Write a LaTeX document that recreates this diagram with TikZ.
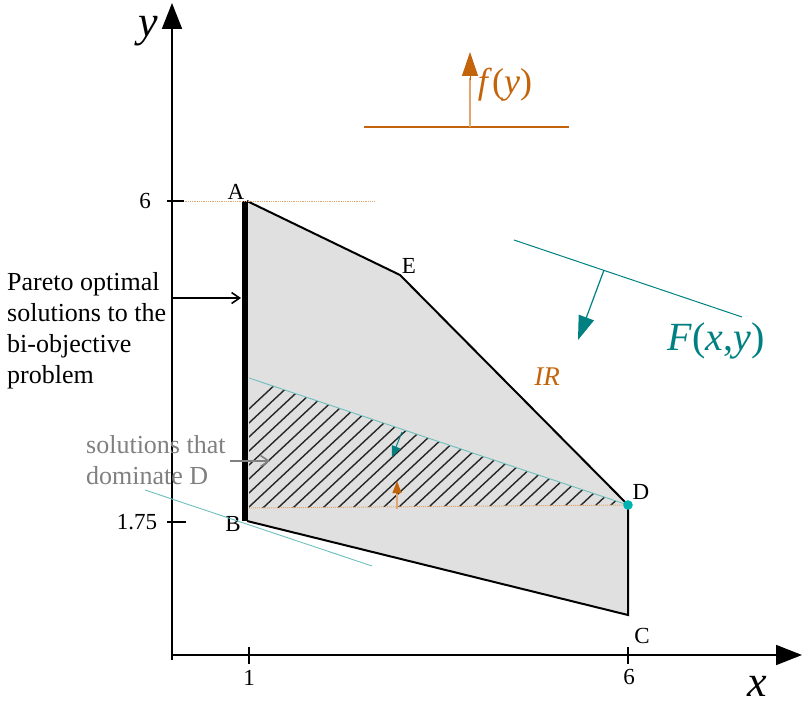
\documentclass[tikz,border=0pt]{standalone}
\usepackage{fontspec}
\setmainfont{Liberation Serif}
\usetikzlibrary{arrows.meta}
\definecolor{teal1}{RGB}{0,128,128}
\definecolor{lteal}{RGB}{110,190,190}
\definecolor{org}{RGB}{196,100,10}
\definecolor{lorg}{RGB}{225,165,110}
\definecolor{regfill}{RGB}{224,224,224}
\definecolor{gtxt}{RGB}{128,128,128}
\tikzset{
  lbl/.style={inner sep=0pt, font=\fontsize{23}{26}\selectfont},
  side/.style={inner sep=0pt, align=left, font=\fontsize{26}{31}\selectfont},
  axis/.style={line width=1.8pt, -{Triangle[length=26pt,width=20pt]}},
  tick/.style={line width=1.1pt},
}
\begin{document}
\begin{tikzpicture}[x=1pt,y=-1pt]
\useasboundingbox (0,0) rectangle (802,706);
% coordinates
\coordinate (A) at (247,201);
\coordinate (E) at (400,275);
\coordinate (D) at (628,505);
\coordinate (C) at (628,615);
\coordinate (B) at (247,521);
\coordinate (H1) at (249,378);
\coordinate (H2) at (249,508);
% region
\fill[regfill] (A) -- (E) -- (D) -- (C) -- (B) -- cycle;
% hatch
\begin{scope}
\clip (H1) -- (D) -- (H2) -- cycle;
\foreach \i in {0,...,40}{
  \draw[line width=1.4pt, black!85] ({130+\i*15},520) -- ++(150,-140);
}
\end{scope}
\draw[lteal, line width=0.9pt] (H1) -- (D);
\draw[lorg, line width=1pt, densely dotted] (H2) -- (D);
\draw[black, line width=2pt] (A) -- (E) -- (D) -- (C) -- (B);
\draw[line width=6pt] (245,201) -- (245,521);
% dotted horizontal at 6
\draw[lorg, line width=0.8pt, densely dotted] (172,201) -- (375,201);
% axes
\coordinate (O) at (172,655);
\coordinate (Ytip) at (172,3);
\coordinate (Xtip) at (802,655);
\draw[axis] (172,660) -- (Ytip);
\draw[axis] (172,655) -- (Xtip);
\node[inner sep=0pt, font=\fontsize{44}{44}\selectfont\itshape] (ylab) at (148,31) {y};
\node[inner sep=0pt, font=\fontsize{44}{44}\selectfont\itshape] (xlab) at (757,686) {x};
% ticks
\draw[tick] (167,201) -- (184,201);
\draw[tick] (167,522) -- (186,522);
\draw[tick] (249,647) -- (249,664);
\draw[tick] (628,647) -- (628,664);
\node[lbl] (t6y) at (145,201) {6};
\node[lbl] (t175) at (137,522) {1.75};
\node[lbl] (t1) at (249,678) {1};
\node[lbl] (t6x) at (629,677) {6};
% point labels
\node[lbl] (lA) at (236,192) {A};
\node[lbl] (lE) at (409,266) {E};
\node[lbl] (lB) at (233,524) {B};
\node[lbl] (lD) at (641,492) {D};
\node[lbl] (lC) at (642,636) {C};
% D dot
\fill[teal1!60!cyan] (D) circle (4.8);
% small arrows in hatch
\coordinate (ta1) at (402,432);
\coordinate (ta2) at (392,457);
\draw[teal1, line width=1pt, -{Triangle[length=11pt,width=9pt]}] (ta1) -- (ta2);
\coordinate (oa1) at (397,509);
\coordinate (oa2) at (397,481);
\draw[lorg, line width=1.3pt] (oa1) -- (397,492);
\draw[org, line width=1.2pt, -{Triangle[length=12pt,width=9pt]}] (397,493) -- (oa2);
% teal line under B
\draw[lteal, line width=0.9pt] (145,490) -- (372,566);
% Pareto text
\node[side, anchor=north west] (pareto) at (7,272) {Pareto optimal\\solutions to the\\bi-objective\\problem};
\coordinate (pa1) at (172,298);
\coordinate (pa2) at (241,298);
\draw[line width=1.6pt, -{Straight Barb[length=8pt,width=11pt]}] (pa1) -- (pa2);
% dominate text
\node[side, text=gtxt, anchor=north west] (dom) at (86,435) {solutions that\\dominate D};
\coordinate (da1) at (230,461);
\coordinate (da2) at (270,461);
\draw[gtxt, line width=1.6pt, -{Straight Barb[length=8pt,width=11pt]}] (da1) -- (da2);
% IR
\node[inner sep=0pt, text=org, font=\fontsize{27}{27}\selectfont\itshape] (IR) at (547,377) {IR};
% F(x,y)
\draw[teal1, line width=1pt] (514,240) -- (742,317);
\coordinate (fa1) at (604,270);
\coordinate (fa2) at (578,340);
\draw[teal1, line width=1.2pt, -{Triangle[length=24pt,width=16pt]}] (fa1) -- (fa2);
\node[inner sep=0pt, text=teal1, font=\fontsize{40}{40}\selectfont] (F) at (716,341) {\textit{F}(\textit{x},\textit{y})};
% f(y)
\draw[org, line width=1.1pt] (364,127) -- (569,127);
\coordinate (ga1) at (470,127);
\coordinate (ga2) at (470,52);
\draw[lorg, line width=1.5pt] (ga1) -- (470,78);
\draw[org, line width=1pt, -{Triangle[length=24pt,width=16pt]}] (470,80) -- (ga2);
\node[inner sep=0pt, text=org, font=\fontsize{36}{36}\selectfont] (fy) at (505,85) {\textit{f}(\textit{y})};
\end{tikzpicture}
\end{document}
